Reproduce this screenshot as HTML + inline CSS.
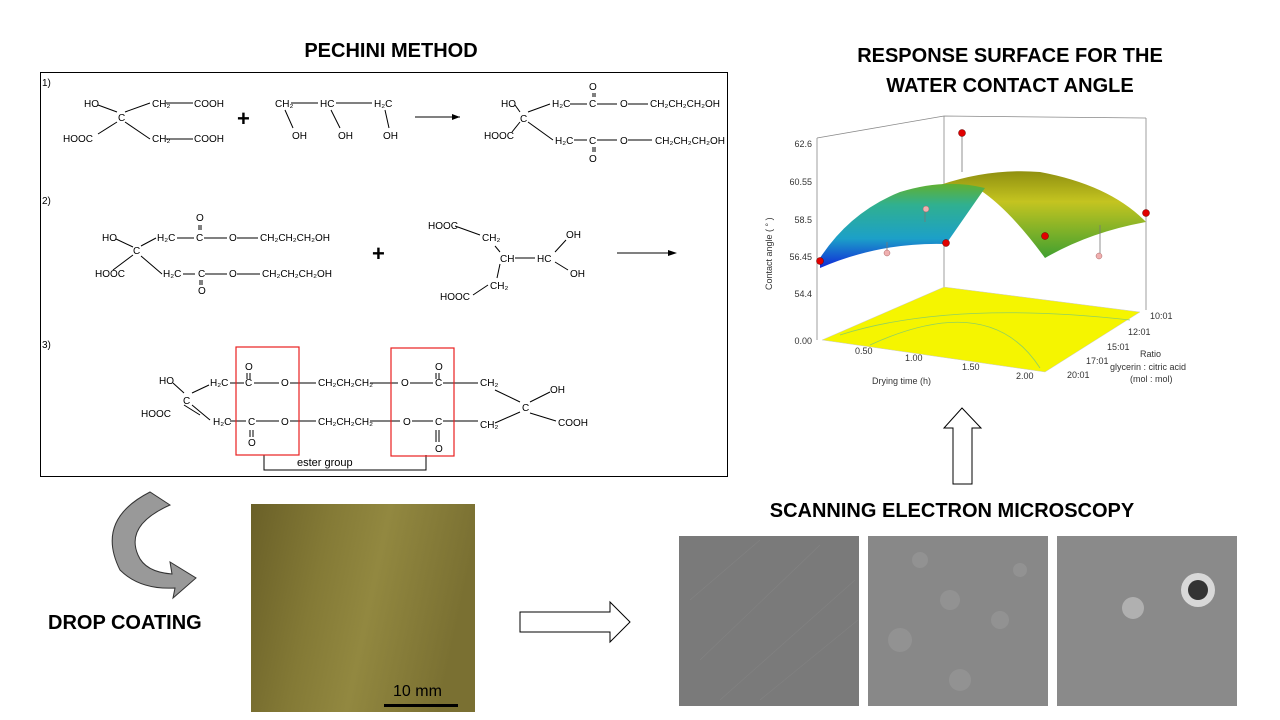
<!DOCTYPE html>
<html><head><meta charset="utf-8"><style>
body{margin:0;width:1280px;height:720px;background:#fff;overflow:hidden}
svg{display:block}
text{font-family:"Liberation Sans",sans-serif}
.c{font-size:10px;fill:#000}
.t{font-size:20px;font-weight:bold;fill:#000}
.a{font-size:9px;fill:#333}
</style></head><body>
<svg width="1280" height="720" viewBox="0 0 1280 720">
<defs>
<linearGradient id="brass" x1="0" y1="0" x2="1" y2="0.2">
<stop offset="0" stop-color="#6a6028"/><stop offset="0.35" stop-color="#847a36"/><stop offset="0.6" stop-color="#928840"/><stop offset="1" stop-color="#7a7032"/></linearGradient>
<linearGradient id="blue" x1="0" y1="1" x2="0" y2="0">
<stop offset="0" stop-color="#1028d8"/><stop offset="0.35" stop-color="#1ca0c8"/><stop offset="0.75" stop-color="#30b090"/><stop offset="1" stop-color="#60b030"/></linearGradient>
<linearGradient id="yel" x1="0" y1="0" x2="0" y2="1">
<stop offset="0" stop-color="#909010"/><stop offset="0.35" stop-color="#c4c420"/><stop offset="1" stop-color="#40a030"/></linearGradient>
</defs>
<text class="t" x="391" y="57" text-anchor="middle">PECHINI METHOD</text>
<rect x="40.5" y="72.5" width="687" height="404" fill="none" stroke="#000" stroke-width="1"/>
<g class="c" stroke="none">
<text x="42" y="86">1)</text>
<text x="84" y="107">HO</text><text x="152" y="107">CH₂</text><text x="194" y="107">COOH</text>
<text x="118" y="121">C</text><text x="63" y="142">HOOC</text><text x="152" y="142">CH₂</text><text x="194" y="142">COOH</text>
<text x="275" y="107">CH₂</text><text x="320" y="107">HC</text><text x="374" y="107">H₂C</text>
<text x="292" y="139">OH</text><text x="338" y="139">OH</text><text x="383" y="139">OH</text>
<text x="501" y="107">HO</text><text x="552" y="107">H₂C</text><text x="589" y="90">O</text><text x="589" y="107">C</text><text x="620" y="107">O</text><text x="650" y="107">CH₂CH₂CH₂OH</text>
<text x="520" y="122">C</text><text x="484" y="139">HOOC</text><text x="555" y="144">H₂C</text><text x="589" y="144">C</text><text x="620" y="144">O</text><text x="655" y="144">CH₂CH₂CH₂OH</text><text x="589" y="162">O</text>
<text x="42" y="204">2)</text>
<text x="102" y="241">HO</text><text x="157" y="241">H₂C</text><text x="196" y="221">O</text><text x="196" y="241">C</text><text x="229" y="241">O</text><text x="260" y="241">CH₂CH₂CH₂OH</text>
<text x="133" y="254">C</text><text x="95" y="277">HOOC</text><text x="163" y="277">H₂C</text><text x="198" y="277">C</text><text x="229" y="277">O</text><text x="262" y="277">CH₂CH₂CH₂OH</text><text x="198" y="294">O</text>
<text x="428" y="229">HOOC</text><text x="482" y="241">CH₂</text><text x="566" y="238">OH</text><text x="500" y="262">CH</text><text x="537" y="262">HC</text><text x="570" y="277">OH</text><text x="490" y="289">CH₂</text><text x="440" y="300">HOOC</text>
<text x="42" y="348">3)</text>
<text x="159" y="384">HO</text><text x="210" y="386">H₂C</text><text x="245" y="370">O</text><text x="245" y="386">C</text><text x="281" y="386">O</text><text x="318" y="386">CH₂CH₂CH₂</text><text x="401" y="386">O</text><text x="435" y="370">O</text><text x="435" y="386">C</text><text x="480" y="386">CH₂</text>
<text x="183" y="404">C</text><text x="141" y="417">HOOC</text>
<text x="213" y="425">H₂C</text><text x="248" y="425">C</text><text x="281" y="425">O</text><text x="318" y="425">CH₂CH₂CH₂</text><text x="403" y="425">O</text><text x="435" y="425">C</text><text x="480" y="428">CH₂</text>
<text x="248" y="446">O</text><text x="435" y="452">O</text>
<text x="522" y="411">C</text><text x="550" y="393">OH</text><text x="558" y="426">COOH</text>
<text x="297" y="466" font-size="11">ester group</text>
</g>
<g stroke="#000" stroke-width="1" fill="none">
<path d="M98 105L117 112M125 112L150 103M166 103H193M98 134L117 122M125 122L150 139M166 139H193"/>
<path d="M291 103H318M336 103H372M285 110L293 128M331 110L340 128M385 110L389 128"/>
<path d="M415 117H460"/><path d="M515 105L520 112M528 112L550 104M570 104H587M597 104H617M628 104H648M512 132L520 122M528 122L553 140M574 140H587M597 140H617M628 140H652"/>
<path d="M593 93v4M595 93v4M593 147v5M595 147v5"/>
<path d="M617 253H672"/>
<path d="M116 239L133 247M141 246L156 238M177 238H194M204 238H227M237 238H258M113 270L133 255M141 256L162 274M183 274H195M205 274H227M237 274H260M199 225v5M201 225v5M200 280v5M202 280v5"/>
<path d="M455 226L480 235M495 246L500 252M515 258H535M555 252L566 240M555 262L568 270M500 264L497 278M473 295L488 285"/>
<path d="M173 383L184 393M192 393L209 385M200 415L184 405M192 405L210 420M230 383H244M254 383H279M290 383H316M370 383H398M410 383H433M443 383H478M230 421H246M256 421H279M290 421H316M370 421H400M412 421H433M443 421H478M247 373v6M250 373v6M436 373v6M439 373v6M250 430v7M253 430v7M436 430v12M439 430v12"/>
<path d="M495 390L520 402M495 423L520 412M530 402L550 392M530 413L556 421"/>
<path d="M264 455V470H426V455"/>
</g>
<path d="M460 117l-8 -3v6z M677 253l-9 -3v6z" fill="#000"/>
<g font-size="22" font-weight="bold"><text x="237" y="126">+</text><text x="372" y="261">+</text></g>
<rect x="236" y="347" width="63" height="108" fill="none" stroke="#e82020" stroke-width="1.2"/>
<rect x="391" y="348" width="63" height="108" fill="none" stroke="#e82020" stroke-width="1.2"/>

<text class="t" x="1010" y="62" text-anchor="middle">RESPONSE SURFACE FOR THE</text>
<text class="t" x="1010" y="92" text-anchor="middle">WATER CONTACT ANGLE</text>
<g stroke="#888" stroke-width="0.8" fill="none">
<path d="M817 138V340M944 116V287M1146 118V310M817 138L944 116L1146 118"/>
</g>
<polygon points="822,340 944,287 1140,312 1045,372" fill="#f5f500" stroke="#ccc" stroke-width="0.5"/>
<path d="M840 335 Q950 300 1130 320 M870 345 Q990 290 1040 368" stroke="#8fd060" fill="none" stroke-width="0.8"/>
<path d="M940 185 Q990 168 1040 172 Q1110 185 1146 222 Q1090 232 1045 258 Q1010 210 980 190 Z" fill="url(#yel)"/>
<path d="M820 258 Q850 212 900 192 Q945 178 985 188 L946 244 Q880 242 820 268Z" fill="url(#blue)"/>
<g stroke="#777" stroke-width="0.8"><path d="M962 133V172M1100 225V256M925 210V222M887 242V254"/></g>
<g fill="#e00000" stroke="#600" stroke-width="0.5"><circle cx="962" cy="133" r="3.5"/><circle cx="820" cy="261" r="3.5"/><circle cx="946" cy="243" r="3.5"/><circle cx="1045" cy="236" r="3.5"/><circle cx="1146" cy="213" r="3.5"/></g>
<g fill="#f0b0b0" stroke="#a66" stroke-width="0.5"><circle cx="926" cy="209" r="3"/><circle cx="887" cy="253" r="3"/><circle cx="1099" cy="256" r="3"/></g>
<g class="a" text-anchor="end"><text x="812" y="147">62.6</text><text x="812" y="185">60.55</text><text x="812" y="223">58.5</text><text x="812" y="260">56.45</text><text x="812" y="297">54.4</text><text x="812" y="344">0.00</text></g>
<g class="a"><text x="855" y="354">0.50</text><text x="905" y="361">1.00</text><text x="962" y="370">1.50</text><text x="1016" y="379">2.00</text>
<text x="1150" y="319">10:01</text><text x="1128" y="335">12:01</text><text x="1107" y="350">15:01</text><text x="1086" y="364">17:01</text><text x="1067" y="378">20:01</text>
<text x="872" y="384">Drying time (h)</text><text x="1140" y="357">Ratio</text><text x="1110" y="370">glycerin : citric acid</text><text x="1130" y="382">(mol : mol)</text>
<text transform="translate(772,290) rotate(-90)">Contact angle ( ° )</text></g>

<path d="M953 484V428H944L962 408L981 428H972V484Z" fill="#fff" stroke="#000" stroke-width="1"/>
<text class="t" x="952" y="517" text-anchor="middle">SCANNING ELECTRON MICROSCOPY</text>
<rect x="679" y="536" width="180" height="170" fill="#7a7a7a"/>
<g stroke="#888" stroke-width="0.6" opacity="0.6"><path d="M690 600L760 540M700 660L820 545M720 700L855 580M760 700L858 620"/></g>
<rect x="868" y="536" width="180" height="170" fill="#888"/>
<rect x="1057" y="536" width="180" height="170" fill="#8a8a8a"/>
<g fill="#999" opacity="0.6"><circle cx="920" cy="560" r="8"/><circle cx="950" cy="600" r="10"/><circle cx="900" cy="640" r="12"/><circle cx="1000" cy="620" r="9"/><circle cx="960" cy="680" r="11"/><circle cx="1020" cy="570" r="7"/></g>
<circle cx="1133" cy="608" r="11" fill="#b0b0b0"/><circle cx="1198" cy="590" r="17" fill="#d8d8d8"/><circle cx="1198" cy="590" r="10" fill="#333"/>
<rect x="251" y="504" width="224" height="208" fill="url(#brass)"/>
<text x="393" y="696" font-size="16" fill="#000">10 mm</text>
<rect x="384" y="704" width="74" height="3" fill="#000"/>
<path d="M520 612H610V602L630 622L610 642V632H520Z" fill="#fff" stroke="#000" stroke-width="1"/>
<path d="M150 492 Q95 520 120 570 Q140 590 175 588 L173 598 L196 578 L170 562 L172 574 Q145 572 138 555 Q125 525 170 505Z" fill="#999" stroke="#333" stroke-width="1"/>
<text class="t" x="48" y="629">DROP COATING</text>
</svg>
</body></html>
